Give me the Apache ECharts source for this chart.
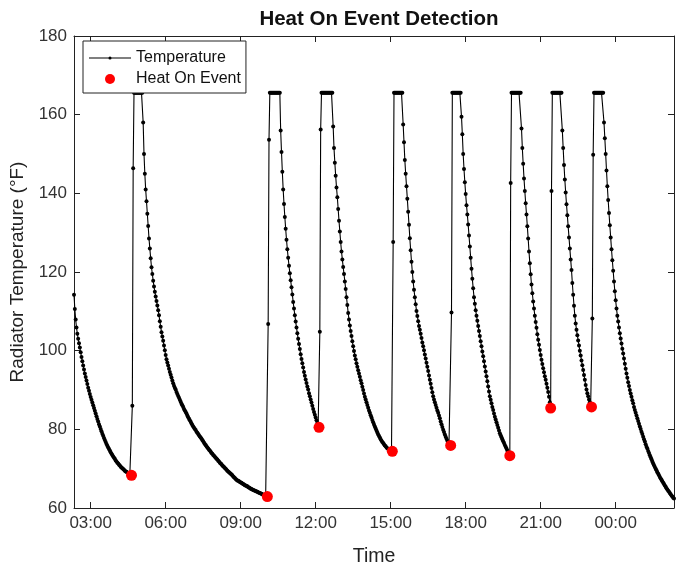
<!DOCTYPE html>
<html>
<head>
<meta charset="utf-8">
<script src="https://cdn.jsdelivr.net/npm/echarts@6/dist/echarts.min.js"></script>
<style>
  html, body { margin: 0; padding: 0; background: #fff; }
  #main { width: 685px; height: 572px; }
</style>
</head>
<body>
<div id="main"></div>
<script>
// radiator readings, one every 2 minutes starting 02:20
var startTime = '02:20';
var stepMinutes = 2;

// cool-down from the start to the first heat-on event
var temp0 = [
  114.2, 110.6, 107.9, 105.9, 104.3, 103.0, 101.9, 100.8, 99.6, 98.4,
  97.3, 96.2, 95.2, 94.2, 93.3, 92.4, 91.5, 90.6, 89.8, 89.0,
  88.2, 87.5, 86.8, 86.1, 85.4, 84.7, 84.0, 83.3, 82.6, 82.0,
  81.3, 80.7, 80.1, 79.5, 78.9, 78.4, 77.8, 77.3, 76.8, 76.3,
  75.8, 75.4, 75.0, 74.6, 74.2, 73.8, 73.5, 73.1, 72.8, 72.5,
  72.1, 71.8, 71.5, 71.3, 71.0, 70.8, 70.5, 70.3, 70.1, 69.9,
  69.7, 69.5, 69.3, 69.2, 69.0, 68.9, 68.7, 68.6, 68.4, 68.3
];
// each cycle: rise, saturated plateau, cool-down to the next event
var temp1 = [
  86.0, 146.4,
  165.6, 165.6, 165.6, 165.6, 165.6, 165.6, 165.6, 165.6, 165.6, 165.6, 165.6,
  158.0, 150.0, 145.0, 141.0, 138.0, 134.8, 131.7, 128.5, 126.0, 123.5,
  121.2, 119.5, 117.8, 116.3, 115.0, 113.8, 112.6, 111.5, 110.3, 109.0,
  107.5, 106.1, 104.7, 103.6, 102.5, 101.3, 100.1, 98.9, 97.8, 97.0,
  96.2, 95.4, 94.6, 93.9, 93.2, 92.4, 91.7, 91.1, 90.6, 90.1,
  89.5, 89.0, 88.5, 88.0, 87.5, 87.0, 86.5, 86.1, 85.7, 85.2,
  84.8, 84.4, 84.0, 83.5, 83.1, 82.7, 82.3, 81.9, 81.5, 81.1,
  80.7, 80.4, 80.1, 79.8, 79.4, 79.1, 78.8, 78.5, 78.2, 77.9,
  77.6, 77.3, 77.0, 76.6, 76.3, 76.0, 75.7, 75.4, 75.1, 74.8,
  74.6, 74.3, 74.0, 73.8, 73.5, 73.3, 73.0, 72.8, 72.5, 72.3,
  72.0, 71.8, 71.5, 71.3, 71.1, 70.8, 70.6, 70.4, 70.2, 70.0,
  69.7, 69.5, 69.3, 69.1, 68.9, 68.7, 68.5, 68.3, 68.0, 67.8,
  67.6, 67.4, 67.2, 67.0, 66.9, 66.8, 66.6, 66.5, 66.4, 66.2,
  66.1, 66.0, 65.8, 65.7, 65.6, 65.5, 65.3, 65.2, 65.1, 64.9,
  64.8, 64.7, 64.6, 64.5, 64.4, 64.3, 64.2, 64.1, 64.0, 63.9,
  63.8, 63.7, 63.6, 63.5, 63.4, 63.3, 63.2, 63.1, 63.0, 62.9
];
var temp2 = [
  106.8, 153.6,
  165.6, 165.6, 165.6, 165.6, 165.6, 165.6, 165.6, 165.6, 165.6, 165.6, 165.6, 165.6, 165.6,
  156.0, 150.5, 145.5, 141.0, 137.3, 134.0, 131.0, 128.2, 125.8, 123.6,
  121.6, 119.7, 117.9, 116.1, 114.3, 112.4, 110.7, 109.0, 107.4, 105.9,
  104.4, 103.0, 101.7, 100.4, 99.1, 97.9, 96.8, 95.7, 94.6, 93.6,
  92.7, 91.8, 90.9, 90.1, 89.2, 88.4, 87.6, 86.8, 86.0, 85.2,
  84.4, 83.7, 83.0, 82.3, 81.6, 81.0, 80.5
];
var temp3 = [
  104.8, 156.2,
  165.6, 165.6, 165.6, 165.6, 165.6, 165.6, 165.6, 165.6, 165.6, 165.6, 165.6, 165.6, 165.6, 165.6,
  157.0, 151.5, 147.8, 144.5, 141.5, 139.0, 136.0, 133.0, 130.3, 127.6,
  125.2, 123.2, 121.3, 119.5, 117.6, 115.7, 113.6, 111.6, 109.6, 107.9,
  106.4, 105.0, 103.7, 102.4, 101.1, 99.9, 98.8, 97.8, 96.8, 95.9,
  95.0, 94.2, 93.4, 92.5, 91.7, 90.8, 90.0, 89.1, 88.3, 87.6,
  86.9, 86.2, 85.5, 84.8, 84.2, 83.6, 83.0, 82.4, 81.8, 81.2,
  80.7, 80.2, 79.7, 79.2, 78.7, 78.3, 77.9, 77.5, 77.1, 76.8,
  76.5, 76.2, 75.9, 75.7, 75.4, 75.2, 75.0, 74.9, 74.7, 74.6,
  74.5, 74.4
];
var temp4 = [
  127.6,
  165.6, 165.6, 165.6, 165.6, 165.6, 165.6, 165.6, 165.6, 165.6, 165.6, 165.6,
  157.5, 153.0, 148.5, 145.0, 141.8, 138.6, 135.3, 132.0, 128.6, 125.5,
  122.6, 120.0, 117.6, 115.5, 113.6, 111.8, 110.1, 108.8, 107.5, 106.3,
  105.3, 104.3, 103.2, 102.1, 101.1, 100.1, 99.0, 98.0, 96.9, 95.9,
  94.8, 93.7, 92.6, 91.6, 90.5, 89.4, 88.4, 87.6, 86.9, 86.2,
  85.5, 84.8, 84.2, 83.5, 82.8, 82.0, 81.3, 80.6, 79.9, 79.3,
  78.7, 78.1, 77.6, 77.1, 76.7, 76.4, 76.1, 75.9
];
var temp5 = [
  109.7,
  165.6, 165.6, 165.6, 165.6, 165.6, 165.6, 165.6, 165.6, 165.6, 165.6, 165.6,
  159.5, 155.0, 150.0, 146.2, 142.8, 139.8, 137.0, 134.6, 132.1, 129.3,
  126.5, 123.6, 120.8, 118.3, 115.9, 113.6, 111.9, 110.3, 108.9, 107.6,
  106.3, 105.0, 103.7, 102.4, 101.1, 99.8, 98.6, 97.3, 96.0, 94.7,
  93.5, 92.2, 90.9, 89.6, 88.4, 87.5, 86.6, 85.7, 84.9, 84.0,
  83.2, 82.5, 81.8, 81.1, 80.4, 79.7, 79.0, 78.5, 78.0, 77.5,
  77.0, 76.5, 76.0, 75.6, 75.1, 74.6, 74.2, 73.7, 73.3
];
var temp6 = [
  142.6,
  165.6, 165.6, 165.6, 165.6, 165.6, 165.6, 165.6, 165.6, 165.6, 165.6, 165.6, 165.6,
  156.5, 151.5, 147.5, 143.8, 140.6, 137.5, 134.6, 131.6, 128.5, 125.2,
  122.2, 119.4, 116.8, 114.6, 112.5, 110.7, 108.9, 107.3, 105.8, 104.2,
  102.8, 101.5, 100.2, 98.9, 97.7, 96.6, 95.5, 94.5, 93.5, 92.6,
  91.6, 90.6, 89.5, 88.3, 86.9, 85.4
];
var temp7 = [
  140.6,
  165.6, 165.6, 165.6, 165.6, 165.6, 165.6, 165.6, 165.6, 165.6, 165.6, 165.6, 165.6,
  156.0, 151.5, 147.2, 143.5, 140.2, 137.2, 134.4, 131.6, 128.8, 126.0,
  123.2, 120.5, 117.2, 114.2, 111.4, 108.9, 106.9, 105.3, 103.9, 102.6,
  101.3, 100.0, 98.8, 97.5, 96.3, 95.1, 93.8, 92.6, 91.3, 90.1,
  89.2, 88.4, 87.6, 86.9, 86.2, 85.7
];
var temp8 = [
  108.2, 149.8,
  165.6, 165.6, 165.6, 165.6, 165.6, 165.6, 165.6, 165.6, 165.6, 165.6, 165.6, 165.6,
  158.0, 154.0, 150.0, 145.8, 141.8, 138.3, 135.0, 131.9, 128.8, 125.8,
  123.0, 120.3, 117.6, 115.1, 112.8, 110.7, 108.9, 107.4, 105.9, 104.4,
  103.1, 101.8, 100.5, 99.3, 98.0, 96.7, 95.4, 94.2, 93.1, 92.0,
  91.0, 90.0, 89.1, 88.3, 87.4, 86.6, 85.7, 84.9, 84.2, 83.5,
  82.8, 82.1, 81.4, 80.7, 80.1, 79.4, 78.8, 78.1, 77.5, 76.9,
  76.2, 75.6, 75.1, 74.5, 74.0, 73.4, 72.9, 72.4, 71.8, 71.3,
  70.9, 70.4, 70.0, 69.6, 69.1, 68.7, 68.3, 67.9, 67.5, 67.2,
  66.8, 66.4, 66.1, 65.7, 65.4, 65.0, 64.7, 64.4, 64.1, 63.8,
  63.5, 63.2, 62.9, 62.6, 62.4
];

// detected heat-on events
var eventTimes = ['04:38', '10:04', '12:08', '15:04', '17:24', '19:46', '21:24', '23:02'];
var eventTemps = [68.3, 62.9, 80.5, 74.4, 75.9, 73.3, 85.4, 85.7];

var tickLabels = ['03:00', '06:00', '09:00', '12:00', '15:00', '18:00', '21:00', '00:00'];

var font = 'Liberation Sans, Arial, Helvetica, sans-serif';

function toMinutes(s) {
  var p = s.split(':');
  return +p[0] * 60 + +p[1];
}
var t0 = toMinutes(startTime);
// minutes since midnight of the first day (wraps past midnight)
function onAxis(s) {
  var m = toMinutes(s);
  return m < t0 ? m + 1440 : m;
}

var temps = [].concat(temp0, temp1, temp2, temp3, temp4, temp5, temp6, temp7, temp8);
var tempData = temps.map(function (v, i) { return [t0 + i * stepMinutes, v]; });
var eventData = eventTimes.map(function (s, i) { return [onAxis(s), eventTemps[i]]; });
var tickValues = tickLabels.map(onAxis);

// legend glyph: thin line with a small dot, same 42x10 box as the legend item
var lineDotIcon = 'path://M0,0 L0.01,0 L0.01,0.01 Z M42,10 L41.99,10 L41.99,9.99 Z ' +
  'M0,4.5 L42,4.5 L42,5.5 L0,5.5 Z M19.4,5 A1.6,1.6 0 1 1 22.6,5 A1.6,1.6 0 1 1 19.4,5 Z';

var myChart = echarts.init(document.getElementById('main'));

var option = {
  animation: false,
  backgroundColor: '#fff',
  title: {
    text: 'Heat On Event Detection',
    left: 374,
    textAlign: 'center',
    top: 4,
    textStyle: { fontFamily: font, fontSize: 20.5, fontWeight: 'bold', color: '#111' }
  },
  legend: {
    left: 83,
    top: 41,
    orient: 'vertical',
    itemWidth: 42,
    itemHeight: 10,
    itemGap: 5,
    padding: [9, 5, 6, 6],
    borderColor: '#222',
    borderWidth: 1,
    borderRadius: 0,
    backgroundColor: '#fff',
    itemStyle: { borderWidth: 0 },
    textStyle: { fontFamily: font, fontSize: 16, color: '#111' },
    data: [
      { name: 'Temperature', icon: lineDotIcon },
      { name: 'Heat On Event', icon: 'circle' }
    ]
  },
  grid: { left: 74, right: 11, top: 36, bottom: 64 },
  xAxis: [
    {
      type: 'value',
      min: t0,
      max: t0 + 1440,
      name: 'Time',
      nameLocation: 'middle',
      nameGap: 39,
      nameTextStyle: { fontFamily: font, fontSize: 19.5, color: '#222' },
      splitLine: { show: false },
      axisLine: { lineStyle: { color: '#222', width: 1 } },
      axisTick: { inside: true, length: 6, customValues: tickValues, lineStyle: { color: '#222' } },
      axisLabel: {
        customValues: tickValues,
        margin: 7,
        fontFamily: font,
        fontSize: 17,
        color: '#333',
        formatter: function (v) { return tickLabels[tickValues.indexOf(v)]; }
      }
    },
    {
      type: 'value',
      position: 'top',
      min: t0,
      max: t0 + 1440,
      splitLine: { show: false },
      axisLine: { onZero: false, lineStyle: { color: '#222', width: 1 } },
      axisTick: { inside: true, length: 6, customValues: tickValues, lineStyle: { color: '#222' } },
      axisLabel: { show: false }
    }
  ],
  yAxis: [
    {
      type: 'value',
      min: 60,
      max: 180,
      interval: 20,
      name: 'Radiator Temperature (°F)',
      nameLocation: 'middle',
      nameGap: 41,
      nameTextStyle: { fontFamily: font, fontSize: 19, color: '#222' },
      splitLine: { show: false },
      axisLine: { show: true, lineStyle: { color: '#222', width: 1 } },
      axisTick: { show: true, inside: true, length: 6, lineStyle: { color: '#222' } },
      axisLabel: { margin: 7, fontFamily: font, fontSize: 17, color: '#333' }
    },
    {
      type: 'value',
      position: 'right',
      min: 60,
      max: 180,
      interval: 20,
      splitLine: { show: false },
      axisLine: { show: true, onZero: false, lineStyle: { color: '#222', width: 1 } },
      axisTick: { show: true, inside: true, length: 6, lineStyle: { color: '#222' } },
      axisLabel: { show: false }
    }
  ],
  series: [
    {
      name: 'Temperature',
      type: 'line',
      data: tempData,
      showSymbol: true,
      symbol: 'circle',
      symbolSize: 4,
      sampling: null,
      color: '#000',
      lineStyle: { color: '#000', width: 1.1 },
      itemStyle: { color: '#000' },
      z: 2
    },
    {
      name: 'Heat On Event',
      type: 'scatter',
      data: eventData,
      symbol: 'circle',
      symbolSize: 11,
      itemStyle: { color: '#ff0000', opacity: 1 },
      z: 3
    }
  ]
};

myChart.setOption(option);
</script>
</body>
</html>
